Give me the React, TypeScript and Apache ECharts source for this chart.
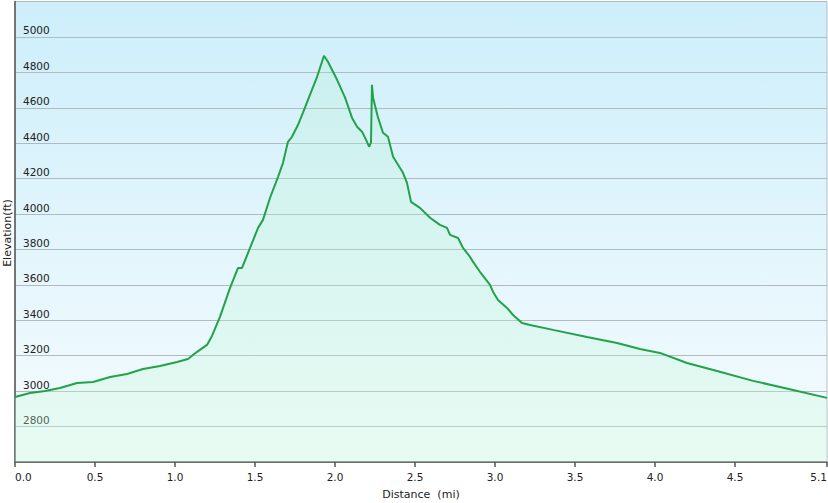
import React, { useEffect, useRef } from "react";
import * as echarts from "echarts";

const distanceMi = [
  0.0, 0.094, 0.188, 0.281, 0.388, 0.488, 0.594, 0.7, 0.8, 0.906, 1.013, 1.081, 1.138, 1.2, 1.231,
  1.281, 1.344, 1.394, 1.419, 1.469, 1.519, 1.55, 1.594, 1.644, 1.675, 1.706, 1.731, 1.769, 1.8,
  1.844, 1.888, 1.931, 1.956, 2.013, 2.063, 2.106, 2.138, 2.169, 2.2, 2.213, 2.225, 2.231, 2.238,
  2.269, 2.3, 2.331, 2.363, 2.394, 2.425, 2.45, 2.475, 2.531, 2.594, 2.656, 2.7, 2.719, 2.769, 2.8,
  2.844, 2.863, 2.906, 2.969, 2.988, 3.019, 3.075, 3.113, 3.169, 3.219, 3.363, 3.575, 3.763, 3.906,
  4.031, 4.2, 4.388, 4.613, 4.863, 5.075,
];

const elevationFt = [
  2967, 2990, 3001, 3018, 3046, 3052, 3080, 3097, 3125, 3142, 3165, 3182, 3222, 3261, 3312,
  3419, 3583, 3696, 3696, 3809, 3922, 3967, 4092, 4210, 4289, 4408, 4436, 4504, 4572,
  4674, 4775, 4894, 4860, 4758, 4657, 4544, 4493, 4465, 4408, 4380, 4403, 4730, 4657,
  4544, 4459, 4436, 4323, 4278, 4233, 4176, 4069, 4035, 3979, 3939, 3922, 3882, 3865, 3809,
  3758, 3730, 3674, 3600, 3560, 3515, 3470, 3430, 3385, 3374, 3346, 3306, 3272, 3238,
  3216, 3159, 3114, 3058, 3007, 2962,
];

const xTickValues = [0, 0.5, 1.0, 1.5, 2.0, 2.5, 3.0, 3.5, 4.0, 4.5, 5.075];
const xTitle = "Distance  (mi)";
const yTitle = "Elevation(ft)";

const FONT = "DejaVu Sans";

export default function App() {
  const ref = useRef<HTMLDivElement>(null);

  useEffect(() => {
    if (!ref.current) return;
    document.body.style.margin = "0";
    const chart = echarts.init(ref.current, null, { renderer: "svg" });
    const data = distanceMi.map((d, i) => [d, elevationFt[i]]);
    chart.setOption({
      animation: false,
      backgroundColor: "#ffffff",
      grid: {
        left: 15,
        right: 1,
        top: 1.5,
        bottom: 41,
        outerBoundsMode: "none",
        containLabel: false,
        show: true,
        borderWidth: 1,
        borderColor: "#b4c0c4",
        backgroundColor: new echarts.graphic.LinearGradient(0, 0, 0, 1, [
          { offset: 0, color: "#cdeefa" },
          { offset: 1, color: "#f6fcfe" },
        ]),
      },
      graphic: [
        {
          type: "text",
          x: 7,
          y: 233,
          rotation: Math.PI / 2,
          style: {
            text: yTitle,
            fontFamily: FONT,
            fontSize: 11,
            fill: "#222",
            align: "center",
            verticalAlign: "middle",
          },
        },
      ],
      xAxis: {
        type: "value",
        min: 0,
        max: 5.075,
        name: xTitle,
        nameLocation: "middle",
        nameGap: 27,
        nameTextStyle: { fontFamily: FONT, fontSize: 11, color: "#222" },
        axisLine: { show: true, lineStyle: { color: "#555", width: 1.5 } },
        axisTick: {
          show: true,
          length: 5,
          customValues: xTickValues,
          lineStyle: { color: "#555", width: 1.5 },
        },
        axisLabel: {
          customValues: xTickValues,
          formatter: (v: number) => v.toFixed(1),
          alignMinLabel: "left",
          alignMaxLabel: "right",
          fontFamily: FONT,
          fontSize: 10.5,
          color: "#222",
          margin: 9,
        },
        splitLine: { show: false },
      },
      yAxis: {
        type: "value",
        min: 2600,
        max: 5200,
        interval: 200,
        axisLine: { show: true, lineStyle: { color: "#555", width: 1.5 } },
        axisTick: { show: false },
        axisLabel: {
          inside: true,
          margin: 8,
          showMinLabel: false,
          showMaxLabel: false,
          formatter: (v: number) => String(v),
          verticalAlign: "bottom",
          padding: [0, 0, 1, 0],
          fontFamily: FONT,
          fontSize: 10.5,
          color: "#222",
        },
        splitLine: { show: true, lineStyle: { color: "#aebbbf", width: 1.2 } },
      },
      series: [
        {
          type: "line",
          data,
          showSymbol: false,
          symbol: "none",
          lineStyle: { color: "#22a24a", width: 2 },
          areaStyle: {
            color: new echarts.graphic.LinearGradient(0, 0, 0, 1, [
              { offset: 0, color: "rgba(170,240,200,0.3)" },
              { offset: 1, color: "rgba(200,248,215,0.45)" },
            ]),
            origin: "start",
          },
        },
      ],
    });
    return () => chart.dispose();
  }, []);

  return (
    <div
      ref={ref}
      style={{ position: "fixed", left: 0, top: 0, width: 828, height: 503, overflow: "hidden" }}
    />
  );
}
